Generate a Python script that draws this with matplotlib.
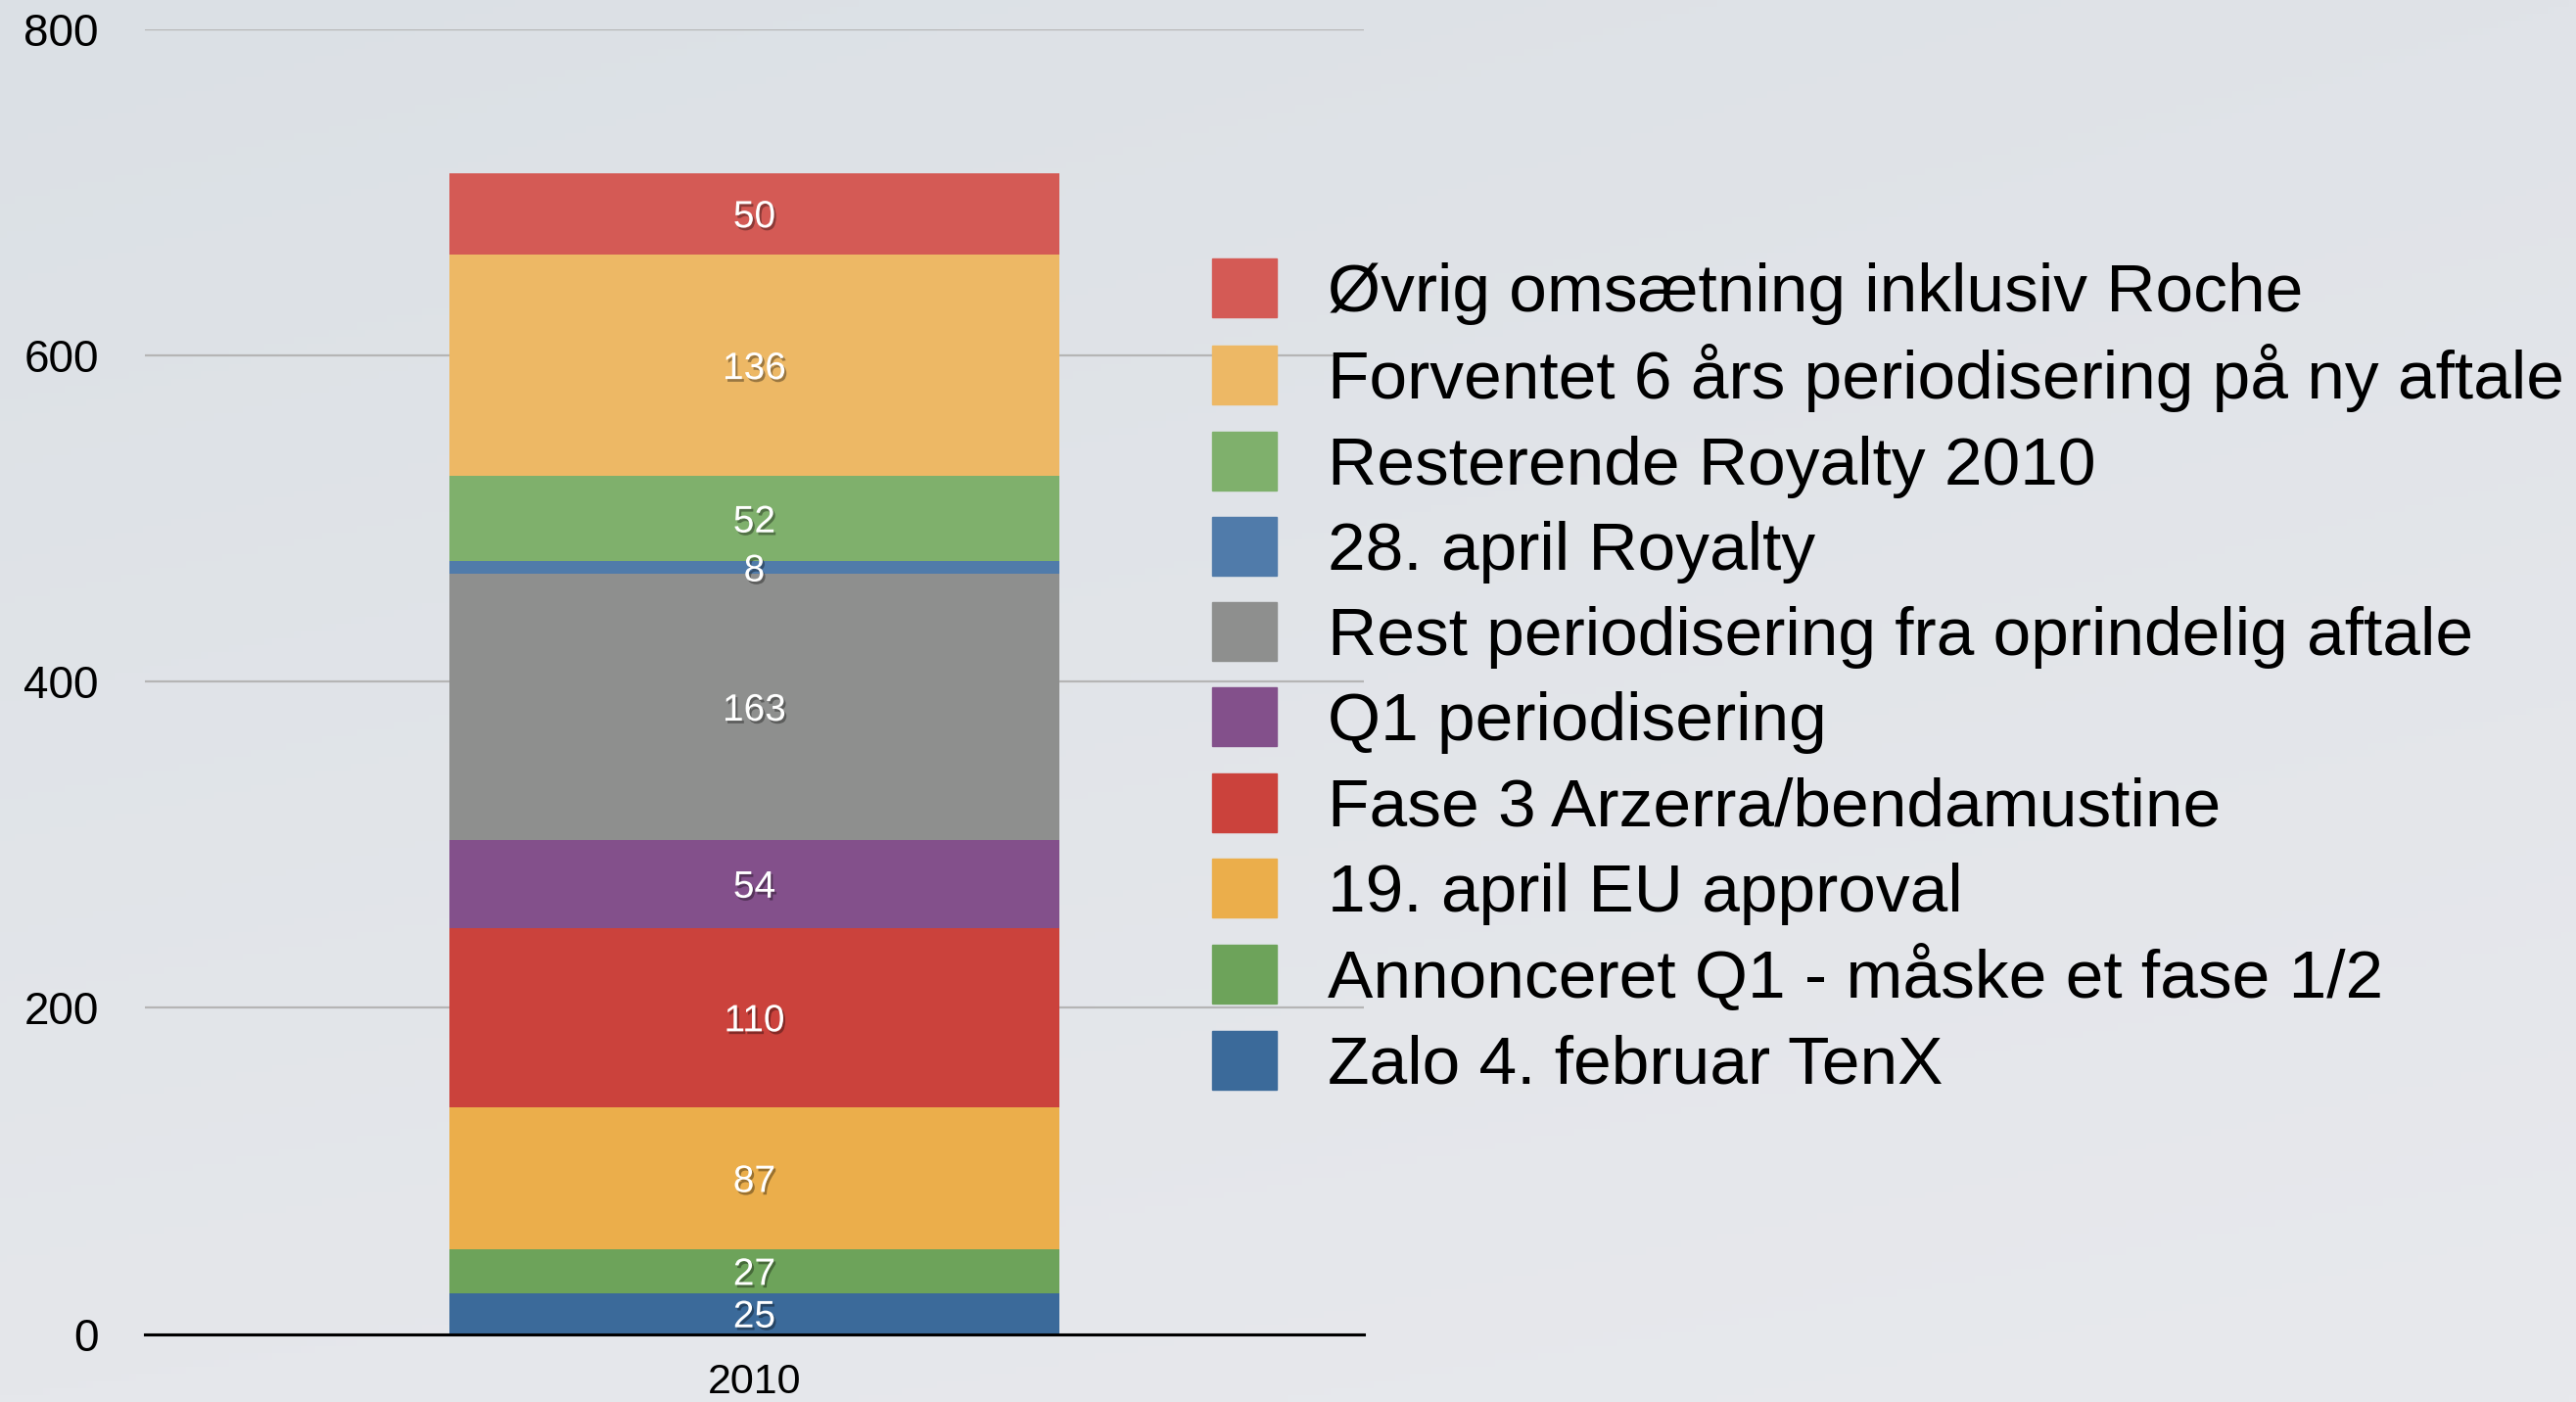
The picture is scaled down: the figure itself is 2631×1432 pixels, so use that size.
import numpy as np
import matplotlib
matplotlib.use("Agg")
import matplotlib.pyplot as plt
import matplotlib.patches as mpatches
import matplotlib.patheffects as pe

plt.rcParams["font.family"] = ["Liberation Sans", "DejaVu Sans"]

# data (bottom of the stack first)
year = "2010"
series = [
    "Zalo 4. februar TenX",
    "Annonceret Q1 - måske et fase 1/2",
    "19. april EU approval",
    "Fase 3 Arzerra/bendamustine",
    "Q1 periodisering",
    "Rest periodisering fra oprindelig aftale",
    "28. april Royalty",
    "Resterende Royalty 2010",
    "Forventet 6 års periodisering på ny aftale",
    "Øvrig omsætning inklusiv Roche",
]
values = [25, 27, 87, 110, 54, 163, 8, 52, 136, 50]
colors = [
    "#3B6A9A",
    "#6DA35A",
    "#EBAE4B",
    "#CB423C",
    "#83508B",
    "#8E8F8E",
    "#507BAA",
    "#7FB06C",
    "#EDB865",
    "#D45A55",
]
yticks = [0, 200, 400, 600, 800]

W, H = 2631, 1432
fig = plt.figure(figsize=(W / 100, H / 100), dpi=100)

# baggrund med svag gradient
bg = fig.add_axes([0, 0, 1, 1], zorder=-10)
yy, xx = np.mgrid[0:1:200j, 0:1:360j]
tl = np.array([219, 224, 229]) / 255
tr = np.array([224, 227, 232]) / 255
bl = np.array([229, 231, 235]) / 255
br = np.array([232, 233, 237]) / 255
img = ((1 - xx)[..., None] * (1 - yy)[..., None] * tl
       + xx[..., None] * (1 - yy)[..., None] * tr
       + (1 - xx)[..., None] * yy[..., None] * bl
       + xx[..., None] * yy[..., None] * br)
bg.imshow(img, aspect="auto", extent=[0, 1, 0, 1], origin="upper")
bg.axis("off")

ax = fig.add_axes([148 / W, 69.5 / H, (1393 - 148) / W, (1402 - 69.5) / H])
ax.patch.set_alpha(0)

shadow = [pe.withSimplePatchShadow(offset=(1.5, -2), shadow_rgbFace="black", alpha=0.35)]
bottom = 0
handles = []
for name, v, c in zip(series, values, colors):
    cont = ax.bar([0], [v], width=0.6, bottom=bottom, color=c, zorder=3)
    labels = ax.bar_label(cont, label_type="center", color="white", fontsize=28,
                          path_effects=shadow, zorder=4)
    for t in labels:
        t.set_verticalalignment("center_baseline")
    handles.append(mpatches.Patch(color=c, label=name))
    bottom += v

ax.set_xlim(-0.6, 0.6)
ax.set_ylim(0, 800)
ax.set_xticks([0])
ax.set_xticklabels([year], fontsize=31)
ax.set_yticks(yticks)
ax.set_yticklabels([str(t) for t in yticks], fontsize=33)
ax.tick_params(axis="both", length=0)
ax.tick_params(axis="y", pad=34)
ax.tick_params(axis="x", pad=21)
ax.yaxis.grid(True, color="#B5B5B5", linewidth=1.6, zorder=0)
ax.set_axisbelow(True)
for s in ["top", "left", "right"]:
    ax.spines[s].set_visible(False)
ax.spines["bottom"].set_color("black")
ax.spines["bottom"].set_linewidth(2.2)
ax.spines["bottom"].set_zorder(5)

fig.legend(
    handles=handles[::-1],
    loc="upper left",
    bbox_to_anchor=(1238 / W, 1 - 264 / H),
    frameon=False,
    fontsize=50,
    handlelength=0.95,
    handleheight=0.95,
    handletextpad=0.75,
    labelspacing=0.28,
    borderpad=0,
    borderaxespad=0,
)

fig.savefig("out.png", dpi=100)
